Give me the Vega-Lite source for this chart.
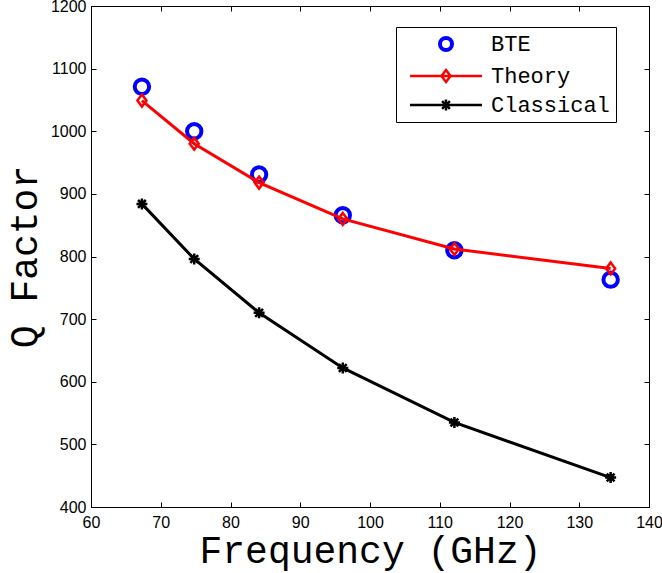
{
  "$schema": "https://vega.github.io/schema/vega-lite/v6.json",
  "autosize": "none",
  "width": 558,
  "height": 501,
  "padding": {"left": 91, "top": 6, "right": 13, "bottom": 66},
  "background": "white",
  "config": {
    "view": {"stroke": "black", "strokeWidth": 1},
    "axis": {
      "grid": false,
      "domainColor": "black",
      "domainWidth": 1,
      "tickColor": "black",
      "tickSize": -5,
      "tickWidth": 1,
      "labelFont": "Liberation Sans",
      "labelFontSize": 16,
      "labelColor": "black",
      "labelFlush": false,
      "labelOverlap": false,
      "titleFont": "Liberation Mono",
      "titleFontSize": 38,
      "titleFontWeight": "normal",
      "titleColor": "black"
    },
    "legend": {
      "labelFont": "Liberation Mono",
      "labelFontSize": 22,
      "labelColor": "black"
    }
  },
  "data": {
    "values": [
      {"f": 67.3, "q": 1071, "s": "BTE"},
      {"f": 74.8, "q": 1000, "s": "BTE"},
      {"f": 84.1, "q": 931, "s": "BTE"},
      {"f": 96.1, "q": 866, "s": "BTE"},
      {"f": 112.1, "q": 810, "s": "BTE"},
      {"f": 134.5, "q": 763, "s": "BTE"},
      {"f": 67.3, "q": 1049, "s": "Theory"},
      {"f": 74.8, "q": 980, "s": "Theory"},
      {"f": 84.1, "q": 918, "s": "Theory"},
      {"f": 96.1, "q": 860, "s": "Theory"},
      {"f": 112.1, "q": 812, "s": "Theory"},
      {"f": 134.5, "q": 781, "s": "Theory"},
      {"f": 67.3, "q": 884, "s": "Classical"},
      {"f": 74.8, "q": 796, "s": "Classical"},
      {"f": 84.1, "q": 710, "s": "Classical"},
      {"f": 96.1, "q": 622, "s": "Classical"},
      {"f": 112.1, "q": 535, "s": "Classical"},
      {"f": 134.5, "q": 447, "s": "Classical"}
    ]
  },
  "resolve": {"axis": {"x": "independent", "y": "independent"}},
  "layer": [
    {
      "transform": [{"filter": "datum.s === 'BTE'"}],
      "mark": {"type": "point", "filled": false, "size": 144, "strokeWidth": 4, "opacity": 1, "shape": "M-1.2,0A1.2,1.2 0 1,0 1.2,0A1.2,1.2 0 1,0 -1.2,0Z"},
      "encoding": {
        "x": {"field": "f", "type": "quantitative", "scale": {"domain": [60, 140], "nice": false, "zero": false},
          "axis": {"orient": "bottom", "values": [60, 70, 80, 90, 100, 110, 120, 130, 140], "title": "Frequency (GHz)", "labelPadding": 12, "titlePadding": 2}},
        "y": {"field": "q", "type": "quantitative", "scale": {"domain": [400, 1200], "nice": false, "zero": false},
          "axis": {"orient": "left", "format": "d", "values": [400, 500, 600, 700, 800, 900, 1000, 1100, 1200], "title": "Q Factor", "labelPadding": 10, "titlePadding": 6}},
        "color": {"field": "s", "type": "nominal",
          "scale": {"domain": ["BTE", "Theory", "Classical"], "range": ["#0000ff", "#ff0000", "#000000"]},
          "legend": {"title": null, "orient": "none", "legendX": 305, "legendY": 21, "padding": 6,
            "strokeColor": "black", "fillColor": "white", "symbolSize": 100, "symbolOffset": 33, "labelOffset": 34, "rowPadding": 7,
            "encoding": {"symbols": {
              "shape": {"value": {"expr": "datum.value === 'BTE' ? 'M-1.2,0A1.2,1.2 0 1,0 1.2,0A1.2,1.2 0 1,0 -1.2,0Z' : datum.value === 'Theory' ? 'M-7.2,0H7.2M0,-1.2L0.9,0L0,1.2L-0.9,0Z' : 'M-7.2,0H7.2M-1.1,0H1.1M0,-1.1V1.1M-0.78,-0.78L0.78,0.78M-0.78,0.78L0.78,-0.78'"}},
              "strokeWidth": {"value": {"expr": "datum.value === 'BTE' ? 4 : 2.5"}},
              "fill": {"value": "transparent"},
              "opacity": {"value": 1}
            }}}}
      }
    },
    {
      "transform": [{"filter": "datum.s !== 'BTE'"}],
      "mark": {"type": "line", "strokeWidth": 3},
      "encoding": {
        "x": {"field": "f", "type": "quantitative", "scale": {"domain": [60, 140], "nice": false, "zero": false},
          "axis": {"orient": "top", "values": [60, 70, 80, 90, 100, 110, 120, 130, 140], "labels": false, "title": null}},
        "y": {"field": "q", "type": "quantitative", "scale": {"domain": [400, 1200], "nice": false, "zero": false},
          "axis": {"orient": "right", "values": [400, 500, 600, 700, 800, 900, 1000, 1100, 1200], "labels": false, "title": null}},
        "color": {"field": "s", "type": "nominal", "legend": null}
      }
    },
    {
      "transform": [{"filter": "datum.s === 'Theory'"}],
      "mark": {"type": "point", "filled": false, "size": 100, "strokeWidth": 2.5, "opacity": 1, "shape": "M0,-1.2L0.9,0L0,1.2L-0.9,0Z"},
      "encoding": {
        "x": {"field": "f", "type": "quantitative", "axis": null},
        "y": {"field": "q", "type": "quantitative", "axis": null},
        "color": {"field": "s", "type": "nominal", "legend": null}
      }
    },
    {
      "transform": [{"filter": "datum.s === 'Classical'"}],
      "mark": {"type": "point", "filled": false, "size": 100, "strokeWidth": 2.5, "opacity": 1, "shape": "M-1.1,0H1.1M0,-1.1V1.1M-0.78,-0.78L0.78,0.78M-0.78,0.78L0.78,-0.78"},
      "encoding": {
        "x": {"field": "f", "type": "quantitative", "axis": null},
        "y": {"field": "q", "type": "quantitative", "axis": null},
        "color": {"field": "s", "type": "nominal", "legend": null}
      }
    }
  ]
}
